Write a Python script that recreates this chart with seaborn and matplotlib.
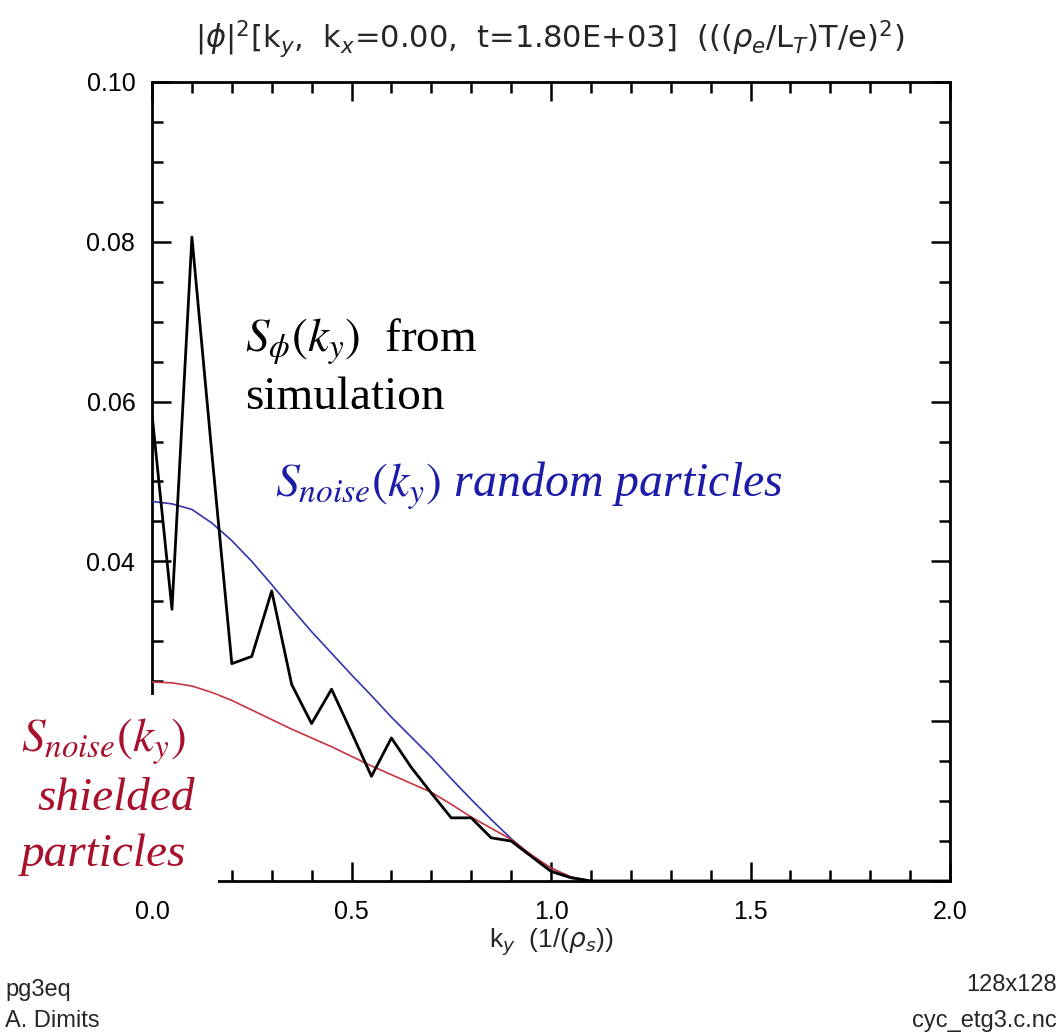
import numpy as np
import pandas as pd
import matplotlib
matplotlib.use("Agg")
import matplotlib.pyplot as plt
import seaborn as sns
from matplotlib.ticker import MultipleLocator
from matplotlib.patches import Rectangle

# ---- data ----
ky = [0.00, 0.05, 0.10, 0.15, 0.20, 0.25, 0.30, 0.35, 0.40, 0.45, 0.50,
      0.55, 0.60, 0.65, 0.70, 0.75, 0.80, 0.85, 0.90, 0.95, 1.00, 1.05,
      1.10, 1.20, 1.30, 1.40, 1.50, 1.60, 1.70, 1.80, 1.90, 2.00]
s_phi = [0.0584, 0.0340, 0.0806, 0.0535, 0.0272, 0.0281, 0.0363, 0.0246, 0.0197, 0.0240, 0.0186,
         0.0131, 0.0179, 0.0142, 0.0110, 0.0079, 0.0079, 0.0054, 0.0050, 0.0031, 0.0012, 0.0004,
         0.0, 0.0, 0.0, 0.0, 0.0, 0.0, 0.0, 0.0, 0.0, 0.0]
s_noise_random = [0.0475, 0.0472, 0.0465, 0.0448, 0.0426, 0.0400, 0.0371, 0.0341, 0.0312, 0.0285, 0.0258,
                  0.0232, 0.0205, 0.0180, 0.0155, 0.0128, 0.0102, 0.0077, 0.0053, 0.0032, 0.0016, 0.0005,
                  0.0, 0.0, 0.0, 0.0, 0.0, 0.0, 0.0, 0.0, 0.0, 0.0]
s_noise_shielded = [0.0249, 0.0248, 0.0244, 0.0236, 0.0226, 0.0214, 0.0202, 0.0190, 0.0179, 0.0168, 0.0156,
                    0.0144, 0.0133, 0.0122, 0.0111, 0.0096, 0.0080, 0.0066, 0.0052, 0.0033, 0.0016, 0.0005,
                    0.0, 0.0, 0.0, 0.0, 0.0, 0.0, 0.0, 0.0, 0.0, 0.0]

x_ticks = [0.0, 0.5, 1.0, 1.5, 2.0]
x_ticklabels = ["0.0", "0.5", "1.0", "1.5", "2.0"]
y_ticks = [0.00, 0.02, 0.04, 0.06, 0.08, 0.10]
# 0.00 and 0.02 labels are hidden behind the annotation box in the reference
y_ticklabels = ["", "", "0.04", "0.06", "0.08", "0.10"]

df = pd.DataFrame({"ky": ky, "phi": s_phi, "rand": s_noise_random, "shield": s_noise_shielded})

sns.set_style("ticks")
plt.rcParams["font.family"] = ["Liberation Sans", "DejaVu Sans"]

fig = plt.figure(figsize=(10.63, 10.34), dpi=100)
ax = fig.add_axes([0.143, 0.148, 0.7507, 0.7727])

sns.lineplot(data=df, x="ky", y="rand", ax=ax, color="#3434a8", linewidth=1.2, zorder=3)
sns.lineplot(data=df, x="ky", y="shield", ax=ax, color="#c8343f", linewidth=1.2, zorder=3)
sns.lineplot(data=df, x="ky", y="phi", ax=ax, color="black", linewidth=2.0, zorder=4)

ax.set_xlim(0, 2.0)
ax.set_ylim(0, 0.10)
ax.set_xticks(x_ticks)
ax.set_xticklabels(x_ticklabels)
ax.set_yticks(y_ticks)
ax.set_yticklabels(y_ticklabels)
ax.xaxis.set_minor_locator(MultipleLocator(0.1))
ax.yaxis.set_minor_locator(MultipleLocator(0.005))
ax.tick_params(which="both", direction="in", top=True, right=True, colors="black",
               labelsize=18, width=1.8)
ax.tick_params(which="major", length=14)
ax.tick_params(axis="x", which="major", pad=14)
ax.tick_params(axis="y", which="major", pad=12)
ax.tick_params(which="minor", length=8)
for s in ax.spines.values():
    s.set_linewidth(2.0)
    s.set_color("black")

ax.set_xlabel(r"k$_y$  (1/($\rho_s$))", fontsize=19, labelpad=2)
ax.set_ylabel("")

fig.text(0.517, 0.962, r"$|\phi|^2$[k$_y$,  k$_x$=0.00,  t=1.80E+03]  ((($\rho_e$/L$_T$)T/e)$^2$)",
         ha="center", va="center", fontsize=22, family=["DejaVu Sans"])

fig.text(0.005, 0.043, "pg3eq", ha="left", va="center", fontsize=17)
fig.text(0.005, 0.013, "A. Dimits", ha="left", va="center", fontsize=17)
fig.text(0.994, 0.047, "128x128", ha="right", va="center", fontsize=17)
fig.text(0.994, 0.013, "cyc_etg3.c.nc", ha="right", va="center", fontsize=17)

serif = ["Liberation Serif", "DejaVu Serif"]
fig.text(0.2305, 0.660, r"$S_{\phi}(k_y)$  from", fontsize=34, family=serif,
         math_fontfamily="stix", color="black", ha="left", va="baseline")
fig.text(0.2305, 0.604, "simulation", fontsize=34, family=serif, color="black",
         ha="left", va="baseline")
fig.text(0.259, 0.520, r"$S_{noise}(k_y)$ random particles", fontsize=34.5, family=serif,
         style="italic", math_fontfamily="stix", color="#1c1ca8", ha="left", va="baseline")

# white box behind the red annotation
fig.patches.append(Rectangle((0.0, 0.139), 0.205, 0.189, transform=fig.transFigure,
                             facecolor="white", edgecolor="none", zorder=5))
red = "#a8102c"
fig.text(0.02, 0.273, r"$S_{noise}(k_y)$", fontsize=34, family=serif, style="italic",
         math_fontfamily="stix", color=red, ha="left", va="baseline", zorder=6)
fig.text(0.035, 0.217, "shielded", fontsize=34, family=serif, style="italic",
         color=red, ha="left", va="baseline", zorder=6)
fig.text(0.02, 0.162, "particles", fontsize=34, family=serif, style="italic",
         color=red, ha="left", va="baseline", zorder=6)

fig.savefig("out.png", dpi=100, facecolor="white")
